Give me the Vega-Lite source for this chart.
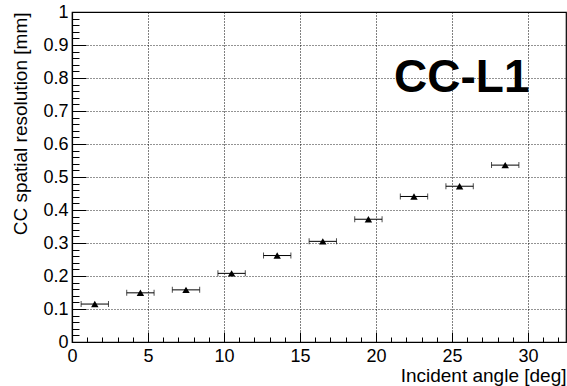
{
  "$schema": "https://vega.github.io/schema/vega-lite/v6.json",
  "width": 494,
  "height": 330,
  "autosize": "none",
  "padding": {"left": 72, "top": 12, "right": 1, "bottom": 44},
  "background": "white",
  "config": {
    "font": "Liberation Sans",
    "view": {"stroke": "black", "strokeWidth": 1.2},
    "axis": {"ticks": true, "tickOpacity": 1}
  },
  "resolve": {"axis": {"x": "independent", "y": "independent"}},
  "data": {
    "values": [
      {"angle": 1.5, "res": 0.115, "lo": 0.6, "hi": 2.4},
      {"angle": 4.5, "res": 0.149, "lo": 3.6, "hi": 5.4},
      {"angle": 7.5, "res": 0.158, "lo": 6.6, "hi": 8.4},
      {"angle": 10.5, "res": 0.208, "lo": 9.6, "hi": 11.4},
      {"angle": 13.5, "res": 0.262, "lo": 12.6, "hi": 14.4},
      {"angle": 16.5, "res": 0.305, "lo": 15.6, "hi": 17.4},
      {"angle": 19.5, "res": 0.372, "lo": 18.6, "hi": 20.4},
      {"angle": 22.5, "res": 0.441, "lo": 21.6, "hi": 23.4},
      {"angle": 25.5, "res": 0.472, "lo": 24.6, "hi": 26.4},
      {"angle": 28.5, "res": 0.536, "lo": 27.6, "hi": 29.4}
    ]
  },
  "layer": [
    {
      "mark": {"type": "errorbar", "ticks": {"size": 6, "color": "black"}, "rule": {"color": "black", "strokeWidth": 1}},
      "encoding": {
        "x": {
          "field": "lo", "type": "quantitative", "title": null,
          "scale": {"domain": [0, 32.5], "nice": false, "zero": false},
          "axis": {
            "orient": "top",
            "offset": -330,
            "values": [0,1,2,3,4,5,6,7,8,9,10,11,12,13,14,15,16,17,18,19,20,21,22,23,24,25,26,27,28,29,30,31,32],
            "tickCount": 200,
            "labels": false,
            "domain": false,
            "grid": false,
            "ticks": true,
            "tickOpacity": 1,
            "tickColor": "black",
            "tickWidth": 1,
            "tickSize": 5
          }
        },
        "x2": {"field": "hi"},
        "y": {
          "field": "res", "type": "quantitative", "title": null,
          "scale": {"domain": [0, 1], "nice": false, "zero": false},
          "axis": {
            "orient": "right",
            "offset": -494,
            "values": [0,0.02,0.04,0.06,0.08,0.1,0.12,0.14,0.16,0.18,0.2,0.22,0.24,0.26,0.28,0.3,0.32,0.34,0.36,0.38,0.4,0.42,0.44,0.46,0.48,0.5,0.52,0.54,0.56,0.58,0.6,0.62,0.64,0.66,0.68,0.7,0.72,0.74,0.76,0.78,0.8,0.82,0.84,0.86,0.88,0.9,0.92,0.94,0.96,0.98,1],
            "tickCount": 200,
            "labels": false,
            "domain": false,
            "grid": false,
            "ticks": true,
            "tickOpacity": 1,
            "tickColor": "black",
            "tickWidth": 1,
            "tickSize": 7
          }
        }
      }
    },
    {
      "mark": {"type": "point", "shape": "triangle-up", "filled": true, "color": "black", "size": 55, "opacity": 1},
      "encoding": {
        "x": {
          "field": "angle", "type": "quantitative", "title": "Incident angle [deg]",
          "axis": {
            "orient": "bottom",
            "values": [0, 5, 10, 15, 20, 25, 30],
            "tickCount": 200,
            "format": "d",
            "labelOverlap": false,
            "domainColor": "black",
            "domainWidth": 1.2,
            "ticks": false,
            "grid": true,
            "gridColor": "black",
            "gridDash": [1, 2],
            "labelFontSize": 18,
            "labelColor": "black",
            "labelPadding": 5,
            "labelFlush": false,
            "titleFontSize": 19,
            "titleFontWeight": "normal",
            "titleColor": "black",
            "titleAnchor": "end",
            "titleAlign": "right",
            "titleBaseline": "alphabetic",
            "titleY": 39
          }
        },
        "y": {
          "field": "res", "type": "quantitative", "title": "CC spatial resolution [mm]",
          "axis": {
            "orient": "left",
            "values": [0, 0.1, 0.2, 0.3, 0.4, 0.5, 0.6, 0.7, 0.8, 0.9, 1],
            "tickCount": 200,
            "format": ".1~f",
            "labelOverlap": false,
            "domainColor": "black",
            "domainWidth": 1.2,
            "ticks": false,
            "grid": true,
            "gridColor": "black",
            "gridOpacity": 0.85,
            "gridDash": [1, 2],
            "labelFontSize": 18,
            "labelColor": "black",
            "labelPadding": 4,
            "labelFlush": false,
            "titleFontSize": 19,
            "titleFontWeight": "normal",
            "titleColor": "black",
            "titleAnchor": "end",
            "titleX": -52,
            "titleY": 0,
            "titleAlign": "right",
            "titleBaseline": "middle"
          }
        }
      }
    },
    {
      "data": {"values": [{"label": "CC-L1", "x": 30.1, "y": 0.758}]},
      "mark": {"type": "text", "font": "Liberation Sans", "fontWeight": "bold", "fontSize": 46, "align": "right", "baseline": "alphabetic", "color": "black"},
      "encoding": {
        "x": {
          "field": "x", "type": "quantitative", "title": null,
          "axis": {
            "orient": "top",
            "offset": -330,
            "values": [0, 5, 10, 15, 20, 25, 30],
            "tickCount": 200,
            "labels": false,
            "domain": false,
            "grid": false,
            "ticks": true,
            "tickOpacity": 1,
            "tickColor": "black",
            "tickWidth": 1,
            "tickSize": 10
          }
        },
        "y": {
          "field": "y", "type": "quantitative", "title": null,
          "axis": {
            "orient": "right",
            "offset": -494,
            "values": [0, 0.1, 0.2, 0.3, 0.4, 0.5, 0.6, 0.7, 0.8, 0.9, 1],
            "tickCount": 200,
            "labels": false,
            "domain": false,
            "grid": false,
            "ticks": true,
            "tickOpacity": 1,
            "tickColor": "black",
            "tickWidth": 1,
            "tickSize": 14
          }
        },
        "text": {"field": "label"}
      }
    }
  ]
}
